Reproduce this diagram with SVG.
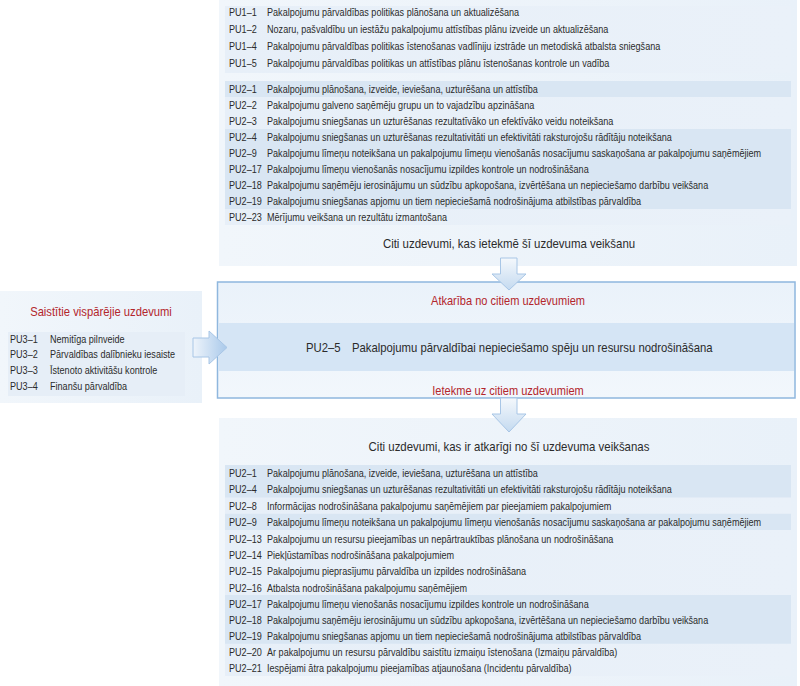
<svg xmlns="http://www.w3.org/2000/svg" width="800" height="686" viewBox="0 0 800 686">
<defs>
<linearGradient id="boxg" x1="0" y1="0" x2="1" y2="0">
<stop offset="0" stop-color="#f1f6fb"/><stop offset="1" stop-color="#e9f1f9"/>
</linearGradient>
<linearGradient id="listg" x1="0" y1="0" x2="1" y2="0">
<stop offset="0" stop-color="#e7eff8"/><stop offset="1" stop-color="#eaf1f9"/>
</linearGradient>
<linearGradient id="arrv" x1="0" y1="0" x2="0" y2="1">
<stop offset="0" stop-color="#f4f8fc"/><stop offset="1" stop-color="#c4daf0"/>
</linearGradient>
<linearGradient id="arrh" x1="0" y1="0" x2="1" y2="0">
<stop offset="0" stop-color="#eef4fb"/><stop offset="1" stop-color="#a9c9ea"/>
</linearGradient>
<linearGradient id="midg" x1="0" y1="0" x2="0" y2="1">
<stop offset="0" stop-color="#eaf2fa"/><stop offset="1" stop-color="#f2f7fc"/>
</linearGradient>
</defs>
<style>
text{font-family:"Liberation Sans",Arial,sans-serif;fill:#2b2b2b}
.s{font-size:11px}
.h{font-size:13px}
.r{fill:#b3262c;font-size:13px}
.c{text-anchor:middle}
.hl{fill:#d9e6f3}
.arrow{stroke:#a8c6e6;stroke-width:1}
</style>

<g id="top-box">
<rect x="219" y="0" width="578" height="266" fill="url(#boxg)"/>
<rect x="225" y="6" width="566" height="67" fill="url(#listg)"/>
<rect x="225" y="81" width="566" height="144" fill="url(#listg)"/>
<rect class="hl" x="225" y="81" width="566" height="16"/>
<rect class="hl" x="225" y="129" width="566" height="80"/>
<text class="s" transform="translate(229 16) scale(0.825 1)">PU1–1</text><text class="s" transform="translate(267 16) scale(0.825 1)">Pakalpojumu pārvaldības politikas plānošana un aktualizēšana</text>
<text class="s" transform="translate(229 33) scale(0.825 1)">PU1–2</text><text class="s" transform="translate(267 33) scale(0.825 1)">Nozaru, pašvaldību un iestāžu pakalpojumu attīstības plānu izveide un aktualizēšana</text>
<text class="s" transform="translate(229 50) scale(0.825 1)">PU1–4</text><text class="s" transform="translate(267 50) scale(0.825 1)">Pakalpojumu pārvaldības politikas īstenošanas vadlīniju izstrāde un metodiskā atbalsta sniegšana</text>
<text class="s" transform="translate(229 67) scale(0.825 1)">PU1–5</text><text class="s" transform="translate(267 67) scale(0.825 1)">Pakalpojumu pārvaldības politikas un attīstības plānu īstenošanas kontrole un vadība</text>
<text class="s" transform="translate(229 93) scale(0.825 1)">PU2–1</text><text class="s" transform="translate(267 93) scale(0.825 1)">Pakalpojumu plānošana, izveide, ieviešana, uzturēšana un attīstība</text>
<text class="s" transform="translate(229 109) scale(0.825 1)">PU2–2</text><text class="s" transform="translate(267 109) scale(0.825 1)">Pakalpojumu galveno saņēmēju grupu un to vajadzību apzināšana</text>
<text class="s" transform="translate(229 125) scale(0.825 1)">PU2–3</text><text class="s" transform="translate(267 125) scale(0.825 1)">Pakalpojumu sniegšanas un uzturēšanas rezultatīvāko un efektīvāko veidu noteikšana</text>
<text class="s" transform="translate(229 141) scale(0.825 1)">PU2–4</text><text class="s" transform="translate(267 141) scale(0.825 1)">Pakalpojumu sniegšanas un uzturēšanas rezultativitāti un efektivitāti raksturojošu rādītāju noteikšana</text>
<text class="s" transform="translate(229 157) scale(0.825 1)">PU2–9</text><text class="s" transform="translate(267 157) scale(0.825 1)">Pakalpojumu līmeņu noteikšana un pakalpojumu līmeņu vienošanās nosacījumu saskaņošana ar pakalpojumu saņēmējiem</text>
<text class="s" transform="translate(229 173) scale(0.825 1)">PU2–17</text><text class="s" transform="translate(267 173) scale(0.825 1)">Pakalpojumu līmeņu vienošanās nosacījumu izpildes kontrole un nodrošināšana</text>
<text class="s" transform="translate(229 189) scale(0.825 1)">PU2–18</text><text class="s" transform="translate(267 189) scale(0.825 1)">Pakalpojumu saņēmēju ierosinājumu un sūdzību apkopošana, izvērtēšana un nepieciešamo darbību veikšana</text>
<text class="s" transform="translate(229 205) scale(0.825 1)">PU2–19</text><text class="s" transform="translate(267 205) scale(0.825 1)">Pakalpojumu sniegšanas apjomu un tiem nepieciešamā nodrošinājuma atbilstības pārvaldība</text>
<text class="s" transform="translate(229 221) scale(0.825 1)">PU2–23</text><text class="s" transform="translate(267 221) scale(0.825 1)">Mērījumu veikšana un rezultātu izmantošana</text>
<text class="h c" transform="translate(509 248) scale(0.88 1)">Citi uzdevumi, kas ietekmē šī uzdevuma veikšanu</text>
</g>

<g id="left-box">
<rect x="0" y="291" width="202" height="112" fill="url(#boxg)"/>
<rect x="8" y="332" width="177" height="64" fill="#e6eef7"/>
<text class="r c" transform="translate(101 316) scale(0.865 1)">Saistītie vispārējie uzdevumi</text>
<text class="s" transform="translate(10 343) scale(0.825 1)">PU3–1</text><text class="s" transform="translate(50 343) scale(0.825 1)">Nemitīga pilnveide</text>
<text class="s" transform="translate(10 358) scale(0.825 1)">PU3–2</text><text class="s" transform="translate(50 358) scale(0.825 1)">Pārvaldības dalībnieku iesaiste</text>
<text class="s" transform="translate(10 374) scale(0.825 1)">PU3–3</text><text class="s" transform="translate(50 374) scale(0.825 1)">Īstenoto aktivitāšu kontrole</text>
<text class="s" transform="translate(10 390) scale(0.825 1)">PU3–4</text><text class="s" transform="translate(50 390) scale(0.825 1)">Finanšu pārvaldība</text>
</g>

<g id="center-box">
<rect x="217.5" y="282" width="577.5" height="116" fill="url(#midg)" stroke="#8fb7de" stroke-width="1.5"/>
<rect x="218.5" y="323" width="575.5" height="48" fill="#d5e5f5"/>
<text class="r c" transform="translate(508 305) scale(0.85 1)">Atkarība no citiem uzdevumiem</text>
<text class="h" transform="translate(306 352) scale(0.87 1)">PU2–5</text><text class="h" transform="translate(352 352) scale(0.87 1)">Pakalpojumu pārvaldībai nepieciešamo spēju un resursu nodrošināšana</text>
<text class="r c" transform="translate(508 395) scale(0.85 1)">Ietekme uz citiem uzdevumiem</text>
</g>

<g id="bottom-box">
<rect x="219" y="418" width="578" height="268" fill="url(#boxg)"/>
<rect x="225" y="465" width="566" height="211" fill="url(#listg)"/>
<rect class="hl" x="225" y="465" width="566" height="32.5"/>
<rect class="hl" x="225" y="513.75" width="566" height="16.25"/>
<rect class="hl" x="225" y="595" width="566" height="48.75"/>
<text class="h c" transform="translate(509 451) scale(0.88 1)">Citi uzdevumi, kas ir atkarīgi no šī uzdevuma veikšanas</text>
<text class="s" transform="translate(229 477) scale(0.825 1)">PU2–1</text><text class="s" transform="translate(267 477) scale(0.825 1)">Pakalpojumu plānošana, izveide, ieviešana, uzturēšana un attīstība</text>
<text class="s" transform="translate(229 493) scale(0.825 1)">PU2–4</text><text class="s" transform="translate(267 493) scale(0.825 1)">Pakalpojumu sniegšanas un uzturēšanas rezultativitāti un efektivitāti raksturojošu rādītāju noteikšana</text>
<text class="s" transform="translate(229 510) scale(0.825 1)">PU2–8</text><text class="s" transform="translate(267 510) scale(0.825 1)">Informācijas nodrošināšana pakalpojumu saņēmējiem par pieejamiem pakalpojumiem</text>
<text class="s" transform="translate(229 526) scale(0.825 1)">PU2–9</text><text class="s" transform="translate(267 526) scale(0.825 1)">Pakalpojumu līmeņu noteikšana un pakalpojumu līmeņu vienošanās nosacījumu saskaņošana ar pakalpojumu saņēmējiem</text>
<text class="s" transform="translate(229 543) scale(0.825 1)">PU2–13</text><text class="s" transform="translate(267 543) scale(0.825 1)">Pakalpojumu un resursu pieejamības un nepārtrauktības plānošana un nodrošināšana</text>
<text class="s" transform="translate(229 559) scale(0.825 1)">PU2–14</text><text class="s" transform="translate(267 559) scale(0.825 1)">Piekļūstamības nodrošināšana pakalpojumiem</text>
<text class="s" transform="translate(229 575) scale(0.825 1)">PU2–15</text><text class="s" transform="translate(267 575) scale(0.825 1)">Pakalpojumu pieprasījumu pārvaldība un izpildes nodrošināšana</text>
<text class="s" transform="translate(229 592) scale(0.825 1)">PU2–16</text><text class="s" transform="translate(267 592) scale(0.825 1)">Atbalsta nodrošināšana pakalpojumu saņēmējiem</text>
<text class="s" transform="translate(229 608) scale(0.825 1)">PU2–17</text><text class="s" transform="translate(267 608) scale(0.825 1)">Pakalpojumu līmeņu vienošanās nosacījumu izpildes kontrole un nodrošināšana</text>
<text class="s" transform="translate(229 624) scale(0.825 1)">PU2–18</text><text class="s" transform="translate(267 624) scale(0.825 1)">Pakalpojumu saņēmēju ierosinājumu un sūdzību apkopošana, izvērtēšana un nepieciešamo darbību veikšana</text>
<text class="s" transform="translate(229 640) scale(0.825 1)">PU2–19</text><text class="s" transform="translate(267 640) scale(0.825 1)">Pakalpojumu sniegšanas apjomu un tiem nepieciešamā nodrošinājuma atbilstības pārvaldība</text>
<text class="s" transform="translate(229 656) scale(0.825 1)">PU2–20</text><text class="s" transform="translate(267 656) scale(0.825 1)">Ar pakalpojumu un resursu pārvaldību saistītu izmaiņu īstenošana (Izmaiņu pārvaldība)</text>
<text class="s" transform="translate(229 672) scale(0.825 1)">PU2–21</text><text class="s" transform="translate(267 672) scale(0.825 1)">Iespējami ātra pakalpojumu pieejamības atjaunošana (Incidentu pārvaldība)</text>
</g>

<g id="connectors">
<path class="arrow" fill="url(#arrv)" d="M500.5,258 H517 V274 H526 L509,290 L492,274 H500.5 Z"/>
<path class="arrow" fill="url(#arrv)" d="M500.5,398 H517 V414 H526 L509,432 L492,414 H500.5 Z"/>
<path class="arrow" fill="url(#arrh)" d="M193,338 H209 V331 L227,347.5 L209,364 V357 H193 Z"/>
</g>
</svg>
